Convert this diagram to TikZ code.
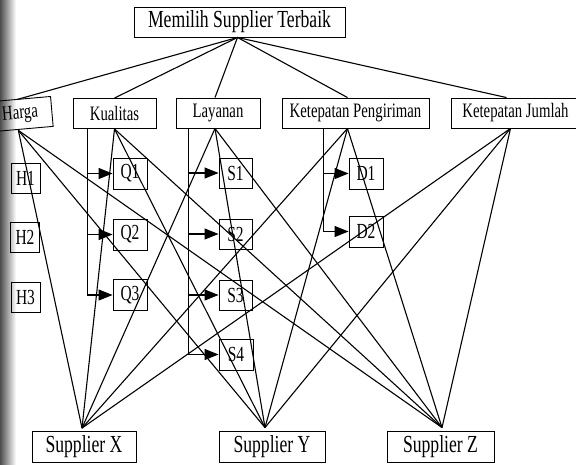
\documentclass[tikz,border=0pt]{standalone}
\usepackage{fontspec}
\setmainfont{Liberation Serif}[FakeStretch=0.72]
\usetikzlibrary{arrows.meta,calc}
\begin{document}
\begin{tikzpicture}[x=1pt,y=-1pt,
  box/.style={draw, line width=0.9pt, inner sep=0pt, align=center},
  crit/.style={box, minimum height=30pt, font=\fontsize{20.5}{22}\selectfont},
  subc/.style={box, minimum width=33pt, minimum height=30pt, font=\fontsize{21.5}{22}\selectfont},
  supp/.style={box, minimum width=105pt, minimum height=31pt, font=\fontsize{24.5}{26}\selectfont},
  link/.style={line width=1.1pt},
  arr/.style={line width=1.1pt, -{Triangle[length=14pt,width=11pt]}}]
\useasboundingbox (0,0) rectangle (576,464);
\clip (0,0) rectangle (576,464);
\fill[white] (0,0) rectangle (576,464);
\shade[left color=black!70, right color=white] (0,0) rectangle (16,464);

% top goal
\node[box, minimum width=211pt, minimum height=30pt, font=\fontsize{24.5}{26}\selectfont] (top) at (239.5,22) {Memilih Supplier Terbaik};

% criteria
\node[crit, minimum width=82pt, text width=54pt, align=right, rotate=5] (harga) at (11,115) {Harga};
\node[crit, minimum width=83pt] (kual) at (114.5,113.5) {Kualitas};
\node[crit, minimum width=84pt] (lay) at (218,113) {Layanan};
\node[crit, minimum width=147pt] (peng) at (355.5,113) {Ketepatan Pengiriman};
\node[crit, minimum width=129pt] (jum) at (515.5,113) {Ketepatan Jumlah};

% sub-criteria
\node[subc, minimum width=29pt] (H1) at (25.5,178) {H1};
\node[subc, minimum width=29pt] (H2) at (25,237.5) {H2};
\node[subc, minimum width=29pt] (H3) at (25.5,297) {H3};
\node[subc, minimum width=34pt, minimum height=31pt] (Q1) at (130,173.5) {Q1};
\node[subc, minimum width=34pt, minimum height=31pt] (Q2) at (130,234.5) {Q2};
\node[subc, minimum width=34pt, minimum height=31pt] (Q3) at (130,295) {Q3};
\node[subc] (S1) at (235.5,173) {S1};
\node[subc] (S2) at (235.5,234) {S2};
\node[subc] (S3) at (235.5,295) {S3};
\node[subc, minimum width=34pt, minimum height=31pt] (S4) at (236,354.5) {S4};
\node[subc, minimum width=34pt, minimum height=31pt] (D1) at (366,173.5) {D1};
\node[subc, minimum width=34pt, minimum height=31pt] (D2) at (366,231.5) {D2};

% suppliers
\node[supp, minimum width=104pt] (X) at (84,447) {Supplier X};
\node[supp, minimum width=106pt] (Y) at (272,446.5) {Supplier Y};
\node[supp, minimum width=107pt] (Z) at (440.5,446.5) {Supplier Z};

% goal to criteria
\coordinate (g) at ([xshift=-2pt]top.south);
\draw[link] (g) -- ([xshift=7pt]harga.north);
\draw[link] (g) -- (kual.north);
\draw[link] (g) -- ([xshift=-3pt]lay.north);
\draw[link] (g) -- ([xshift=-8pt]peng.north);
\draw[link] (g) -- ([xshift=-9pt]jum.north);

% criteria to suppliers
\coordinate (hb) at ([xshift=6pt]harga.south);
\coordinate (kb) at (kual.south);
\coordinate (lb) at ([xshift=-3pt]lay.south);
\coordinate (pb) at ([xshift=-8pt]peng.south);
\coordinate (jb) at ([xshift=-5pt]jum.south);
\coordinate (xt) at ([xshift=-2pt,yshift=3pt]X.north);
\coordinate (yt) at ([xshift=-7pt,yshift=3pt]Y.north);
\coordinate (zt) at ([xshift=1.5pt,yshift=3pt]Z.north);
\foreach \a in {hb,kb,lb,pb,jb}
  \foreach \b in {xt,yt,zt}
    \draw[link] (\a) -- (\b);

% brackets to sub-criteria
\path (Q1.west |- kual.south) ++(-25,0) coordinate (kv);
\draw[arr] (kv) |- (Q1.west);
\draw[arr] (kv) |- (Q2.west);
\draw[arr] (kv) |- (Q3.west);
\path (S1.west |- lay.south) ++(-30,0) coordinate (lv);
\draw[arr] (lv) |- (S1.west);
\draw[arr] (lv) |- (S2.west);
\draw[arr] (lv) |- (S3.west);
\draw[arr] (lv) |- (S4.west);
\path (D1.west |- peng.south) ++(-25,0) coordinate (pv);
\draw[arr] (pv) |- (D1.west);
\draw[arr] (pv) |- (D2.west);
\end{tikzpicture}
\end{document}
